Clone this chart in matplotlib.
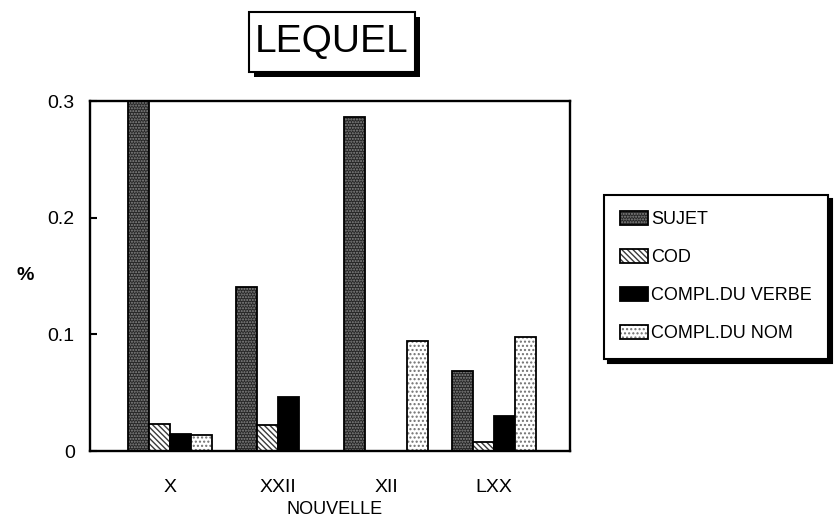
"""Relative pronoun 'lequel': share of syntactic functions per nouvelle."""
import matplotlib
matplotlib.use("Agg")
import numpy as np
import matplotlib.pyplot as plt
from matplotlib.patches import Rectangle, Patch
from matplotlib.legend_handler import HandlerTuple

plt.rcParams["font.family"] = ["Liberation Sans", "DejaVu Sans"]

nouvelles = ["X", "XXII", "XII", "LXX"]
functions = ["SUJET", "COD", "COMPL.DU VERBE", "COMPL.DU NOM"]
sujet = [0.300, 0.141, 0.286, 0.069]
cod = [0.023, 0.022, 0.0, 0.008]
compl_verbe = [0.015, 0.046, 0.0, 0.030]
compl_nom = [0.014, 0.0, 0.094, 0.098]
series = [sujet, cod, compl_verbe, compl_nom]

# fill colour, hatch pattern, hatch colour for each series
styles = [
    ("#262626", "......", "#8a8a8a"),
    ("#ffffff", "\\\\\\\\\\\\", "#3a3a3a"),
    ("#000000", None, None),
    ("#ffffff", "....", "#707070"),
]

W, H = 834, 520
fig = plt.figure(figsize=(W / 100, H / 100), dpi=100)
ax = fig.add_axes([90 / W, 1 - 451 / H, 480 / W, 350 / H])

x = np.arange(len(nouvelles))
width = 0.195
handles = []
for j, (vals, (fc, hatch, hc)) in enumerate(zip(series, styles)):
    pos = x + (j - 1.5) * width
    ax.bar(pos, vals, width, color=fc, edgecolor="none", linewidth=0)
    h = [Patch(facecolor=fc, edgecolor="none", linewidth=0)]
    if hatch:
        ax.bar(pos, vals, width, facecolor="none", edgecolor=hc, hatch=hatch, linewidth=0)
        h.append(Patch(facecolor="none", edgecolor=hc, hatch=hatch, linewidth=0))
    ax.bar(pos, vals, width, facecolor="none", edgecolor="black", linewidth=1.3)
    h.append(Patch(facecolor="none", edgecolor="black", linewidth=1.3))
    handles.append(tuple(h))

ax.set_xlim(-0.741, 3.704)
ax.set_ylim(0, 0.3)
ax.set_yticks([0, 0.1, 0.2, 0.3])
ax.set_yticklabels(["0", "0.1", "0.2", "0.3"])
ax.set_xticks(x)
ax.set_xticklabels(nouvelles)
ax.tick_params(axis="y", direction="in", length=5, width=1.5, pad=11, labelsize=14)
ax.tick_params(axis="x", length=0, pad=20, labelsize=14)
for sp in ax.spines.values():
    sp.set_linewidth(1.7)
    sp.set_color("black")

fig.text(25 / W, 1 - 276 / H, "%", fontsize=14, fontweight="bold", ha="center", va="center")
fig.text(335 / W, 1 - 510 / H, "NOUVELLE", fontsize=13, ha="center", va="center")

# title in a framed box with a hard drop shadow
tx0, ty0, tx1, ty1 = 249, 12, 415, 72
fig.patches.append(Rectangle(((tx0 + 5) / W, 1 - (ty1 + 5) / H), (tx1 - tx0) / W, (ty1 - ty0) / H,
                             transform=fig.transFigure, facecolor="black", edgecolor="none", zorder=1))
fig.patches.append(Rectangle((tx0 / W, 1 - ty1 / H), (tx1 - tx0) / W, (ty1 - ty0) / H,
                             transform=fig.transFigure, facecolor="white", edgecolor="black",
                             linewidth=1.5, zorder=2))
fig.text((tx0 + tx1) / 2 / W, 1 - (ty0 + ty1) / 2 / H, "LEQUEL", fontsize=28,
         ha="center", va="center", zorder=3)

leg = ax.legend(handles, functions, handler_map={tuple: HandlerTuple(ndivide=1)},
                loc="upper left", bbox_to_anchor=(604 / W, 1 - 195 / H),
                bbox_transform=fig.transFigure, borderaxespad=0, fontsize=13,
                frameon=True, fancybox=False, edgecolor="black",
                shadow={"color": "black", "alpha": 1, "ox": 3, "oy": -3},
                handlelength=1.55, handleheight=0.8, handletextpad=0.15,
                labelspacing=1.15, borderpad=0.9)
leg.get_frame().set_linewidth(1.5)

fig.savefig("out.png", dpi=100)
